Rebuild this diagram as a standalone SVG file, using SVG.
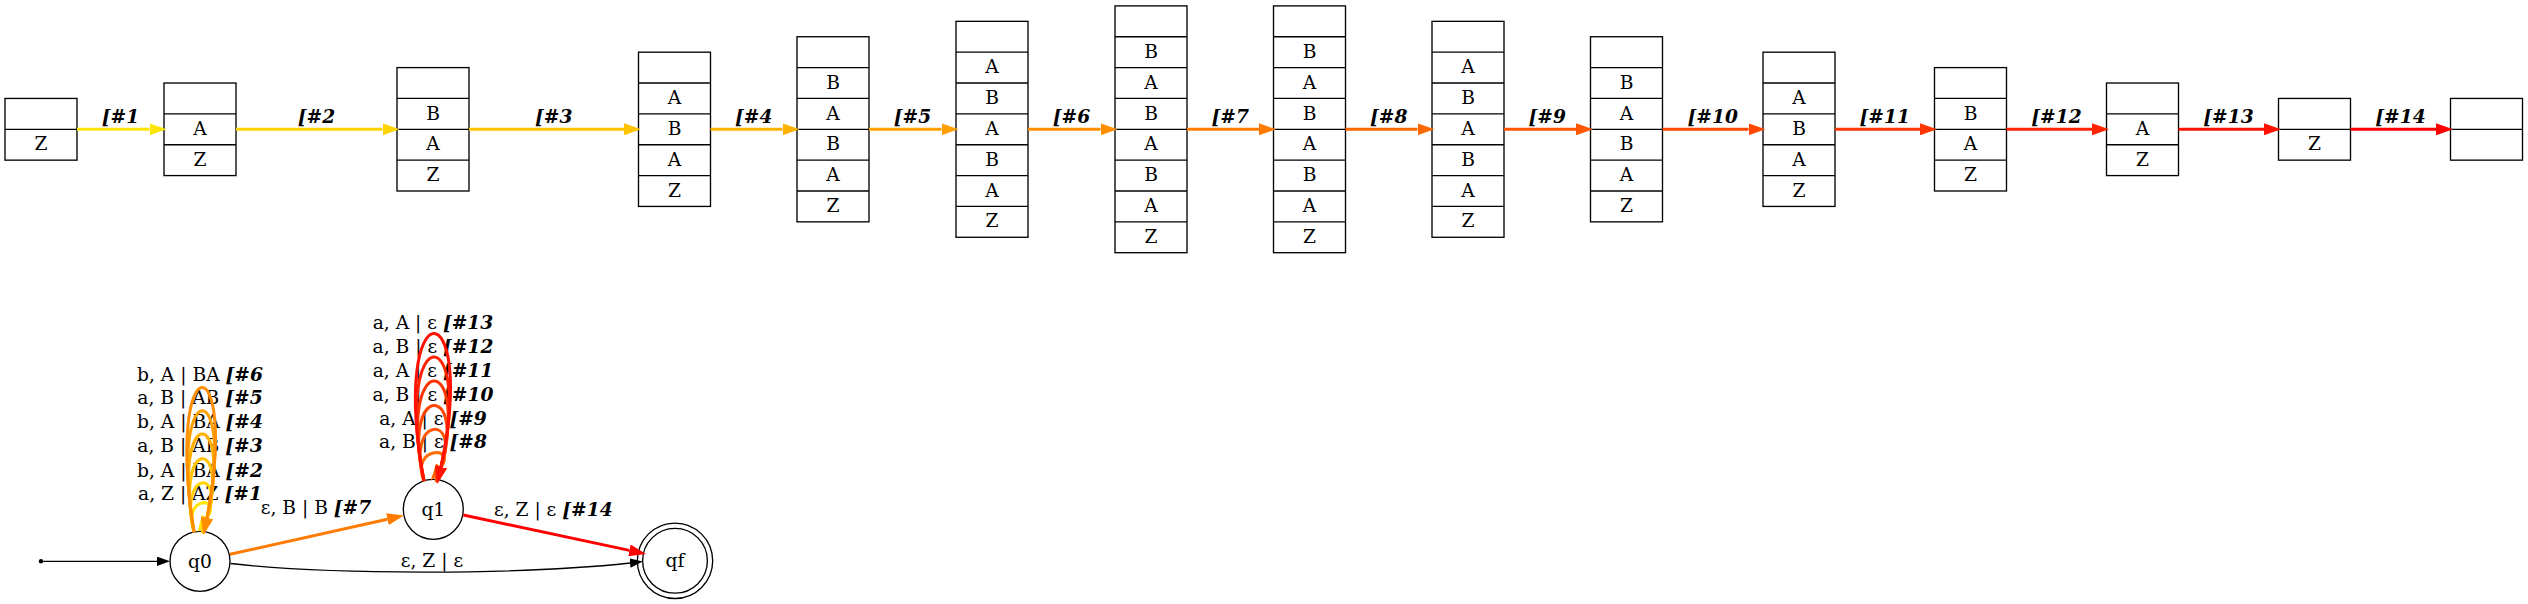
<svg xmlns="http://www.w3.org/2000/svg" width="2528" height="604" viewBox="0 0 2528 604">
<style>
text{font-family:"DejaVu Serif",serif;font-size:18.67px;fill:#000}
.c{text-anchor:middle}
.b{font-weight:bold;font-style:italic}
.stk rect{fill:#fff;stroke:#000;stroke-width:1.33}
.stk line{stroke:#000;stroke-width:1.33}
.st{fill:none;stroke:#000;stroke-width:1.33}
.e{fill:none;stroke-width:3}
.k{fill:none;stroke:#000;stroke-width:1.33}
</style>
<defs>
<marker id="a1" viewBox="0 0 17 12" refX="0" refY="6" markerWidth="17" markerHeight="12" markerUnits="userSpaceOnUse" orient="auto"><path d="M0,0L17,6L0,12z" fill="#FFE600"/></marker>
<marker id="a2" viewBox="0 0 17 12" refX="0" refY="6" markerWidth="17" markerHeight="12" markerUnits="userSpaceOnUse" orient="auto"><path d="M0,0L17,6L0,12z" fill="#FFD400"/></marker>
<marker id="a3" viewBox="0 0 17 12" refX="0" refY="6" markerWidth="17" markerHeight="12" markerUnits="userSpaceOnUse" orient="auto"><path d="M0,0L17,6L0,12z" fill="#FFC300"/></marker>
<marker id="a4" viewBox="0 0 17 12" refX="0" refY="6" markerWidth="17" markerHeight="12" markerUnits="userSpaceOnUse" orient="auto"><path d="M0,0L17,6L0,12z" fill="#FFB100"/></marker>
<marker id="a5" viewBox="0 0 17 12" refX="0" refY="6" markerWidth="17" markerHeight="12" markerUnits="userSpaceOnUse" orient="auto"><path d="M0,0L17,6L0,12z" fill="#FF9F00"/></marker>
<marker id="a6" viewBox="0 0 17 12" refX="0" refY="6" markerWidth="17" markerHeight="12" markerUnits="userSpaceOnUse" orient="auto"><path d="M0,0L17,6L0,12z" fill="#FF8E00"/></marker>
<marker id="a7" viewBox="0 0 17 12" refX="0" refY="6" markerWidth="17" markerHeight="12" markerUnits="userSpaceOnUse" orient="auto"><path d="M0,0L17,6L0,12z" fill="#FF7C00"/></marker>
<marker id="a8" viewBox="0 0 17 12" refX="0" refY="6" markerWidth="17" markerHeight="12" markerUnits="userSpaceOnUse" orient="auto"><path d="M0,0L17,6L0,12z" fill="#FF6A00"/></marker>
<marker id="a9" viewBox="0 0 17 12" refX="0" refY="6" markerWidth="17" markerHeight="12" markerUnits="userSpaceOnUse" orient="auto"><path d="M0,0L17,6L0,12z" fill="#FF5800"/></marker>
<marker id="a10" viewBox="0 0 17 12" refX="0" refY="6" markerWidth="17" markerHeight="12" markerUnits="userSpaceOnUse" orient="auto"><path d="M0,0L17,6L0,12z" fill="#FF4700"/></marker>
<marker id="a11" viewBox="0 0 17 12" refX="0" refY="6" markerWidth="17" markerHeight="12" markerUnits="userSpaceOnUse" orient="auto"><path d="M0,0L17,6L0,12z" fill="#FF3500"/></marker>
<marker id="a12" viewBox="0 0 17 12" refX="0" refY="6" markerWidth="17" markerHeight="12" markerUnits="userSpaceOnUse" orient="auto"><path d="M0,0L17,6L0,12z" fill="#FF2300"/></marker>
<marker id="a13" viewBox="0 0 17 12" refX="0" refY="6" markerWidth="17" markerHeight="12" markerUnits="userSpaceOnUse" orient="auto"><path d="M0,0L17,6L0,12z" fill="#FF1200"/></marker>
<marker id="a14" viewBox="0 0 17 12" refX="0" refY="6" markerWidth="17" markerHeight="12" markerUnits="userSpaceOnUse" orient="auto"><path d="M0,0L17,6L0,12z" fill="#FF0000"/></marker>
<marker id="ak" viewBox="0 0 13 9.4" refX="0" refY="4.7" markerWidth="13" markerHeight="9.4" markerUnits="userSpaceOnUse" orient="auto"><path d="M0,0L13,4.7L0,9.4z" fill="#000"/></marker>
</defs>
<rect width="2528" height="604" fill="#fff"/>

<!-- stacks -->
<g id="s0" class="stk" transform="translate(5,0)">
<rect x="0" y="98.45" width="72" height="61.7"/>
<line x1="0" y1="129.3" x2="72" y2="129.3"/>
<text class="c" x="36" y="150.3">Z</text>
</g>
<g id="s1" class="stk" transform="translate(164,0)">
<rect x="0" y="83.03" width="72" height="92.55"/>
<line x1="0" y1="113.88" x2="72" y2="113.88"/><line x1="0" y1="144.73" x2="72" y2="144.73"/>
<text class="c" x="36" y="134.9">A</text><text class="c" x="36" y="165.75">Z</text>
</g>
<g id="s2" class="stk" transform="translate(397,0)">
<rect x="0" y="67.6" width="72" height="123.4"/>
<line x1="0" y1="98.45" x2="72" y2="98.45"/><line x1="0" y1="129.3" x2="72" y2="129.3"/><line x1="0" y1="160.15" x2="72" y2="160.15"/>
<text class="c" x="36" y="119.5">B</text><text class="c" x="36" y="150.3">A</text><text class="c" x="36" y="181.2">Z</text>
</g>
<g id="s3" class="stk" transform="translate(638.5,0)">
<rect x="0" y="52.18" width="72" height="154.25"/>
<line x1="0" y1="83.03" x2="72" y2="83.03"/><line x1="0" y1="113.88" x2="72" y2="113.88"/><line x1="0" y1="144.73" x2="72" y2="144.73"/><line x1="0" y1="175.58" x2="72" y2="175.58"/>
<text class="c" x="36" y="104.05">A</text><text class="c" x="36" y="134.9">B</text><text class="c" x="36" y="165.75">A</text><text class="c" x="36" y="196.6">Z</text>
</g>
<g id="s4" class="stk" transform="translate(797,0)">
<rect x="0" y="36.75" width="72" height="185.1"/>
<line x1="0" y1="67.6" x2="72" y2="67.6"/><line x1="0" y1="98.45" x2="72" y2="98.45"/><line x1="0" y1="129.3" x2="72" y2="129.3"/><line x1="0" y1="160.15" x2="72" y2="160.15"/><line x1="0" y1="191" x2="72" y2="191"/>
<text class="c" x="36" y="88.6">B</text><text class="c" x="36" y="119.5">A</text><text class="c" x="36" y="150.3">B</text><text class="c" x="36" y="181.2">A</text><text class="c" x="36" y="212">Z</text>
</g>
<g id="s5" class="stk" transform="translate(956,0)">
<rect x="0" y="21.33" width="72" height="215.95"/>
<line x1="0" y1="52.18" x2="72" y2="52.18"/><line x1="0" y1="83.03" x2="72" y2="83.03"/><line x1="0" y1="113.88" x2="72" y2="113.88"/><line x1="0" y1="144.73" x2="72" y2="144.73"/><line x1="0" y1="175.58" x2="72" y2="175.58"/><line x1="0" y1="206.43" x2="72" y2="206.43"/>
<text class="c" x="36" y="73.2">A</text><text class="c" x="36" y="104.05">B</text><text class="c" x="36" y="134.9">A</text><text class="c" x="36" y="165.75">B</text><text class="c" x="36" y="196.6">A</text><text class="c" x="36" y="227.45">Z</text>
</g>
<g id="s6" class="stk" transform="translate(1115,0)">
<rect x="0" y="5.9" width="72" height="246.8"/>
<line x1="0" y1="36.75" x2="72" y2="36.75"/><line x1="0" y1="67.6" x2="72" y2="67.6"/><line x1="0" y1="98.45" x2="72" y2="98.45"/><line x1="0" y1="129.3" x2="72" y2="129.3"/><line x1="0" y1="160.15" x2="72" y2="160.15"/><line x1="0" y1="191" x2="72" y2="191"/><line x1="0" y1="221.85" x2="72" y2="221.85"/>
<text class="c" x="36" y="57.8">B</text><text class="c" x="36" y="88.6">A</text><text class="c" x="36" y="119.5">B</text><text class="c" x="36" y="150.3">A</text><text class="c" x="36" y="181.2">B</text><text class="c" x="36" y="212">A</text><text class="c" x="36" y="242.9">Z</text>
</g>
<g id="s7" class="stk" transform="translate(1273.5,0)">
<rect x="0" y="5.9" width="72" height="246.8"/>
<line x1="0" y1="36.75" x2="72" y2="36.75"/><line x1="0" y1="67.6" x2="72" y2="67.6"/><line x1="0" y1="98.45" x2="72" y2="98.45"/><line x1="0" y1="129.3" x2="72" y2="129.3"/><line x1="0" y1="160.15" x2="72" y2="160.15"/><line x1="0" y1="191" x2="72" y2="191"/><line x1="0" y1="221.85" x2="72" y2="221.85"/>
<text class="c" x="36" y="57.8">B</text><text class="c" x="36" y="88.6">A</text><text class="c" x="36" y="119.5">B</text><text class="c" x="36" y="150.3">A</text><text class="c" x="36" y="181.2">B</text><text class="c" x="36" y="212">A</text><text class="c" x="36" y="242.9">Z</text>
</g>
<g id="s8" class="stk" transform="translate(1432,0)">
<rect x="0" y="21.33" width="72" height="215.95"/>
<line x1="0" y1="52.18" x2="72" y2="52.18"/><line x1="0" y1="83.03" x2="72" y2="83.03"/><line x1="0" y1="113.88" x2="72" y2="113.88"/><line x1="0" y1="144.73" x2="72" y2="144.73"/><line x1="0" y1="175.58" x2="72" y2="175.58"/><line x1="0" y1="206.43" x2="72" y2="206.43"/>
<text class="c" x="36" y="73.2">A</text><text class="c" x="36" y="104.05">B</text><text class="c" x="36" y="134.9">A</text><text class="c" x="36" y="165.75">B</text><text class="c" x="36" y="196.6">A</text><text class="c" x="36" y="227.45">Z</text>
</g>
<g id="s9" class="stk" transform="translate(1590.5,0)">
<rect x="0" y="36.75" width="72" height="185.1"/>
<line x1="0" y1="67.6" x2="72" y2="67.6"/><line x1="0" y1="98.45" x2="72" y2="98.45"/><line x1="0" y1="129.3" x2="72" y2="129.3"/><line x1="0" y1="160.15" x2="72" y2="160.15"/><line x1="0" y1="191" x2="72" y2="191"/>
<text class="c" x="36" y="88.6">B</text><text class="c" x="36" y="119.5">A</text><text class="c" x="36" y="150.3">B</text><text class="c" x="36" y="181.2">A</text><text class="c" x="36" y="212">Z</text>
</g>
<g id="s10" class="stk" transform="translate(1763,0)">
<rect x="0" y="52.18" width="72" height="154.25"/>
<line x1="0" y1="83.03" x2="72" y2="83.03"/><line x1="0" y1="113.88" x2="72" y2="113.88"/><line x1="0" y1="144.73" x2="72" y2="144.73"/><line x1="0" y1="175.58" x2="72" y2="175.58"/>
<text class="c" x="36" y="104.05">A</text><text class="c" x="36" y="134.9">B</text><text class="c" x="36" y="165.75">A</text><text class="c" x="36" y="196.6">Z</text>
</g>
<g id="s11" class="stk" transform="translate(1934.5,0)">
<rect x="0" y="67.6" width="72" height="123.4"/>
<line x1="0" y1="98.45" x2="72" y2="98.45"/><line x1="0" y1="129.3" x2="72" y2="129.3"/><line x1="0" y1="160.15" x2="72" y2="160.15"/>
<text class="c" x="36" y="119.5">B</text><text class="c" x="36" y="150.3">A</text><text class="c" x="36" y="181.2">Z</text>
</g>
<g id="s12" class="stk" transform="translate(2106.5,0)">
<rect x="0" y="83.03" width="72" height="92.55"/>
<line x1="0" y1="113.88" x2="72" y2="113.88"/><line x1="0" y1="144.73" x2="72" y2="144.73"/>
<text class="c" x="36" y="134.9">A</text><text class="c" x="36" y="165.75">Z</text>
</g>
<g id="s13" class="stk" transform="translate(2278.5,0)">
<rect x="0" y="98.45" width="72" height="61.7"/>
<line x1="0" y1="129.3" x2="72" y2="129.3"/>
<text class="c" x="36" y="150.3">Z</text>
</g>
<g id="s14" class="stk" transform="translate(2450.5,0)">
<rect x="0" y="98.45" width="72" height="61.7"/>
<line x1="0" y1="129.3" x2="72" y2="129.3"/>
</g>

<!-- automaton states -->
<g id="start"><circle cx="41" cy="561.3" r="2.2" fill="#000"/></g>
<g id="q0"><circle class="st" cx="200" cy="561.3" r="30"/><text class="c" x="200" y="567.5">q0</text></g>
<g id="q1"><circle class="st" cx="433.3" cy="509.3" r="30"/><text class="c" x="433.3" y="515.5">q1</text></g>
<g id="qf"><circle class="st" cx="675" cy="560.8" r="37.7"/><circle class="st" cx="675" cy="560.8" r="32.4"/><text class="c" x="675" y="567">qf</text></g>

<g id="connectors">
<g id="labels">
<text class="c" x="120.5" y="123"><tspan class="b">[#1</tspan></text>
<text class="c" x="316.5" y="123"><tspan class="b">[#2</tspan></text>
<text class="c" x="553.75" y="123"><tspan class="b">[#3</tspan></text>
<text class="c" x="753.75" y="123"><tspan class="b">[#4</tspan></text>
<text class="c" x="912.5" y="123"><tspan class="b">[#5</tspan></text>
<text class="c" x="1071.5" y="123"><tspan class="b">[#6</tspan></text>
<text class="c" x="1230.25" y="123"><tspan class="b">[#7</tspan></text>
<text class="c" x="1388.75" y="123"><tspan class="b">[#8</tspan></text>
<text class="c" x="1547.25" y="123"><tspan class="b">[#9</tspan></text>
<text class="c" x="1712.75" y="123"><tspan class="b">[#10</tspan></text>
<text class="c" x="1884.75" y="123"><tspan class="b">[#11</tspan></text>
<text class="c" x="2056.5" y="123"><tspan class="b">[#12</tspan></text>
<text class="c" x="2228.5" y="123"><tspan class="b">[#13</tspan></text>
<text class="c" x="2400.5" y="123"><tspan class="b">[#14</tspan></text>

<text class="c" x="200" y="500">a, Z | AZ <tspan class="b">[#1</tspan></text>
<text class="c" x="200" y="476.7">b, A | BA <tspan class="b">[#2</tspan></text>
<text class="c" x="200" y="452.3">a, B | AB <tspan class="b">[#3</tspan></text>
<text class="c" x="200" y="428.3">b, A | BA <tspan class="b">[#4</tspan></text>
<text class="c" x="200" y="404.3">a, B | AB <tspan class="b">[#5</tspan></text>
<text class="c" x="200" y="380.7">b, A | BA <tspan class="b">[#6</tspan></text>

<text class="c" x="433" y="448.3">a, B | ε <tspan class="b">[#8</tspan></text>
<text class="c" x="433" y="425">a, A | ε <tspan class="b">[#9</tspan></text>
<text class="c" x="433" y="400.7">a, B | ε <tspan class="b">[#10</tspan></text>
<text class="c" x="433" y="376.7">a, A | ε <tspan class="b">[#11</tspan></text>
<text class="c" x="433" y="352.7">a, B | ε <tspan class="b">[#12</tspan></text>
<text class="c" x="433" y="329">a, A | ε <tspan class="b">[#13</tspan></text>

<text class="c" x="316" y="514">ε, B | B <tspan class="b">[#7</tspan></text>
<text class="c" x="553.3" y="516">ε, Z | ε <tspan class="b">[#14</tspan></text>
<text class="c" x="432" y="566.7">ε, Z | ε</text>
</g>
<g id="paths">
<path class="e" stroke="#FFE600" marker-end="url(#a1)" d="M77,129.3H149.5"/>
<path class="e" stroke="#FFD400" marker-end="url(#a2)" d="M236,129.3H382.5"/>
<path class="e" stroke="#FFC300" marker-end="url(#a3)" d="M469,129.3H624"/>
<path class="e" stroke="#FFB100" marker-end="url(#a4)" d="M710.5,129.3H782.5"/>
<path class="e" stroke="#FF9F00" marker-end="url(#a5)" d="M869,129.3H941.5"/>
<path class="e" stroke="#FF8E00" marker-end="url(#a6)" d="M1028,129.3H1100.5"/>
<path class="e" stroke="#FF7C00" marker-end="url(#a7)" d="M1187,129.3H1259"/>
<path class="e" stroke="#FF6A00" marker-end="url(#a8)" d="M1345.5,129.3H1417.5"/>
<path class="e" stroke="#FF5800" marker-end="url(#a9)" d="M1504,129.3H1576"/>
<path class="e" stroke="#FF4700" marker-end="url(#a10)" d="M1662.5,129.3H1748.5"/>
<path class="e" stroke="#FF3500" marker-end="url(#a11)" d="M1835,129.3H1920"/>
<path class="e" stroke="#FF2300" marker-end="url(#a12)" d="M2006.5,129.3H2092"/>
<path class="e" stroke="#FF1200" marker-end="url(#a13)" d="M2178.5,129.3H2264"/>
<path class="e" stroke="#FF0000" marker-end="url(#a14)" d="M2350.5,129.3H2436"/>

<path class="k" marker-end="url(#ak)" d="M43.2,561.3H157"/>
<path class="k" marker-end="url(#ak)" d="M230.5,563.5C330,575 520,575 630,563"/>

<path class="e" stroke="#FFE600" marker-end="url(#a1)" d="M194,532C182,495.7 222,495.7 207,518"/>
<path class="e" stroke="#FFD400" marker-end="url(#a2)" d="M194,532C178,469 226,469 207,518"/>
<path class="e" stroke="#FFC300" marker-end="url(#a3)" d="M194,532C174,436.7 230,436.7 207,518"/>
<path class="e" stroke="#FFB100" marker-end="url(#a4)" d="M194,532C170,403.7 234,403.7 207,518"/>
<path class="e" stroke="#FF9F00" marker-end="url(#a5)" d="M194,532C167,372.7 237,372.7 207,518"/>
<path class="e" stroke="#FF8E00" marker-end="url(#a6)" d="M194,532C164,341.7 240,341.7 207,518"/>

<path class="e" stroke="#FF7C00" marker-end="url(#a7)" d="M230,554.3L387.4,519.2"/>

<path class="e" stroke="#FF6A00" marker-end="url(#a8)" d="M424,481C410,446 457,446 441,467"/>
<path class="e" stroke="#FF5800" marker-end="url(#a9)" d="M424,481C405,414.7 462,414.7 441,467"/>
<path class="e" stroke="#FF4700" marker-end="url(#a10)" d="M424,481C400,382.7 467,382.7 441,467"/>
<path class="e" stroke="#FF3500" marker-end="url(#a11)" d="M424,481C396,350 471,350 441,467"/>
<path class="e" stroke="#FF2300" marker-end="url(#a12)" d="M424,481C392,318 475,318 441,467"/>
<path class="e" stroke="#FF1200" marker-end="url(#a13)" d="M424,481C388,286.7 479,286.7 441,467"/>

<path class="e" stroke="#FF0000" marker-end="url(#a14)" d="M463.3,515L629.4,550.4"/>
</g>
</g>
</svg>
